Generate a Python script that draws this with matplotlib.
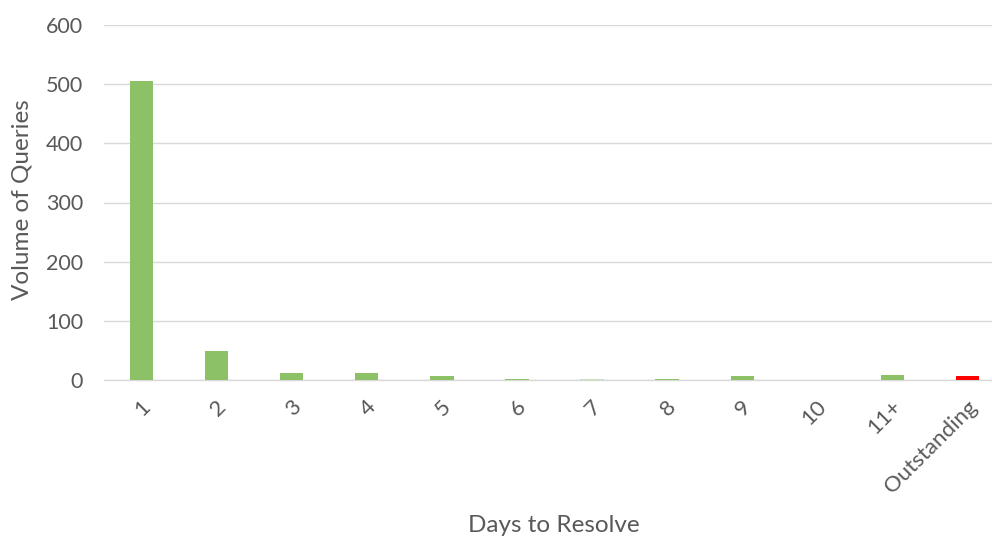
import matplotlib
matplotlib.use("Agg")
import matplotlib.pyplot as plt
from matplotlib.transforms import ScaledTranslation

categories = ["1", "2", "3", "4", "5", "6", "7", "8", "9", "10", "11+", "Outstanding"]
volumes = [505, 49, 12, 11, 7, 2, 1, 2, 7, 0, 9, 7]
bar_colors = ["#8cc168"] * 10 + ["#8cc168", "#ff0000"]
bar_colors[6] = "#c9dfb8"
y_ticks = [0, 100, 200, 300, 400, 500, 600]

plt.rcParams["font.family"] = ["Lato", "DejaVu Sans"]
text_color = "#595959"

fig = plt.figure(figsize=(9.92, 5.41), dpi=100)
ax = fig.add_axes([104 / 992, 1 - 380 / 541, 901 / 992, 355 / 541])

x = range(len(categories))
ax.bar(x, volumes, width=0.31, color=bar_colors, zorder=3)

ax.set_xlim(-0.5, len(categories) - 0.5)
ax.set_ylim(0, 600)
ax.set_yticks(y_ticks)
ax.set_yticklabels([str(v) for v in y_ticks], fontsize=15.5, color=text_color)
ax.set_xticks(list(x))
ax.set_xticklabels(categories, rotation=45, ha="right", va="center",
                   rotation_mode="anchor", fontsize=16, color=text_color)
ax.tick_params(axis="both", length=0)
ax.tick_params(axis="y", pad=15)
ax.tick_params(axis="x", pad=17)
shift = ScaledTranslation(6 / 100, 0, fig.dpi_scale_trans)
for lbl in ax.get_xticklabels():
    lbl.set_transform(lbl.get_transform() + shift)

ax.grid(axis="y", color="#d9d9d9", linewidth=1, zorder=0)
for side in ["top", "right", "left"]:
    ax.spines[side].set_visible(False)
ax.spines["bottom"].set_color("#d9d9d9")
ax.spines["bottom"].set_linewidth(1)

fig.text(22 / 992, 1 - 200 / 541, "Volume of Queries", rotation=90,
         ha="center", va="center", fontsize=17.5, color=text_color)
fig.text(554 / 992, 1 - 526 / 541, "Days to Resolve",
         ha="center", va="center", fontsize=17.5, color=text_color)

fig.savefig("out.png", dpi=100)
